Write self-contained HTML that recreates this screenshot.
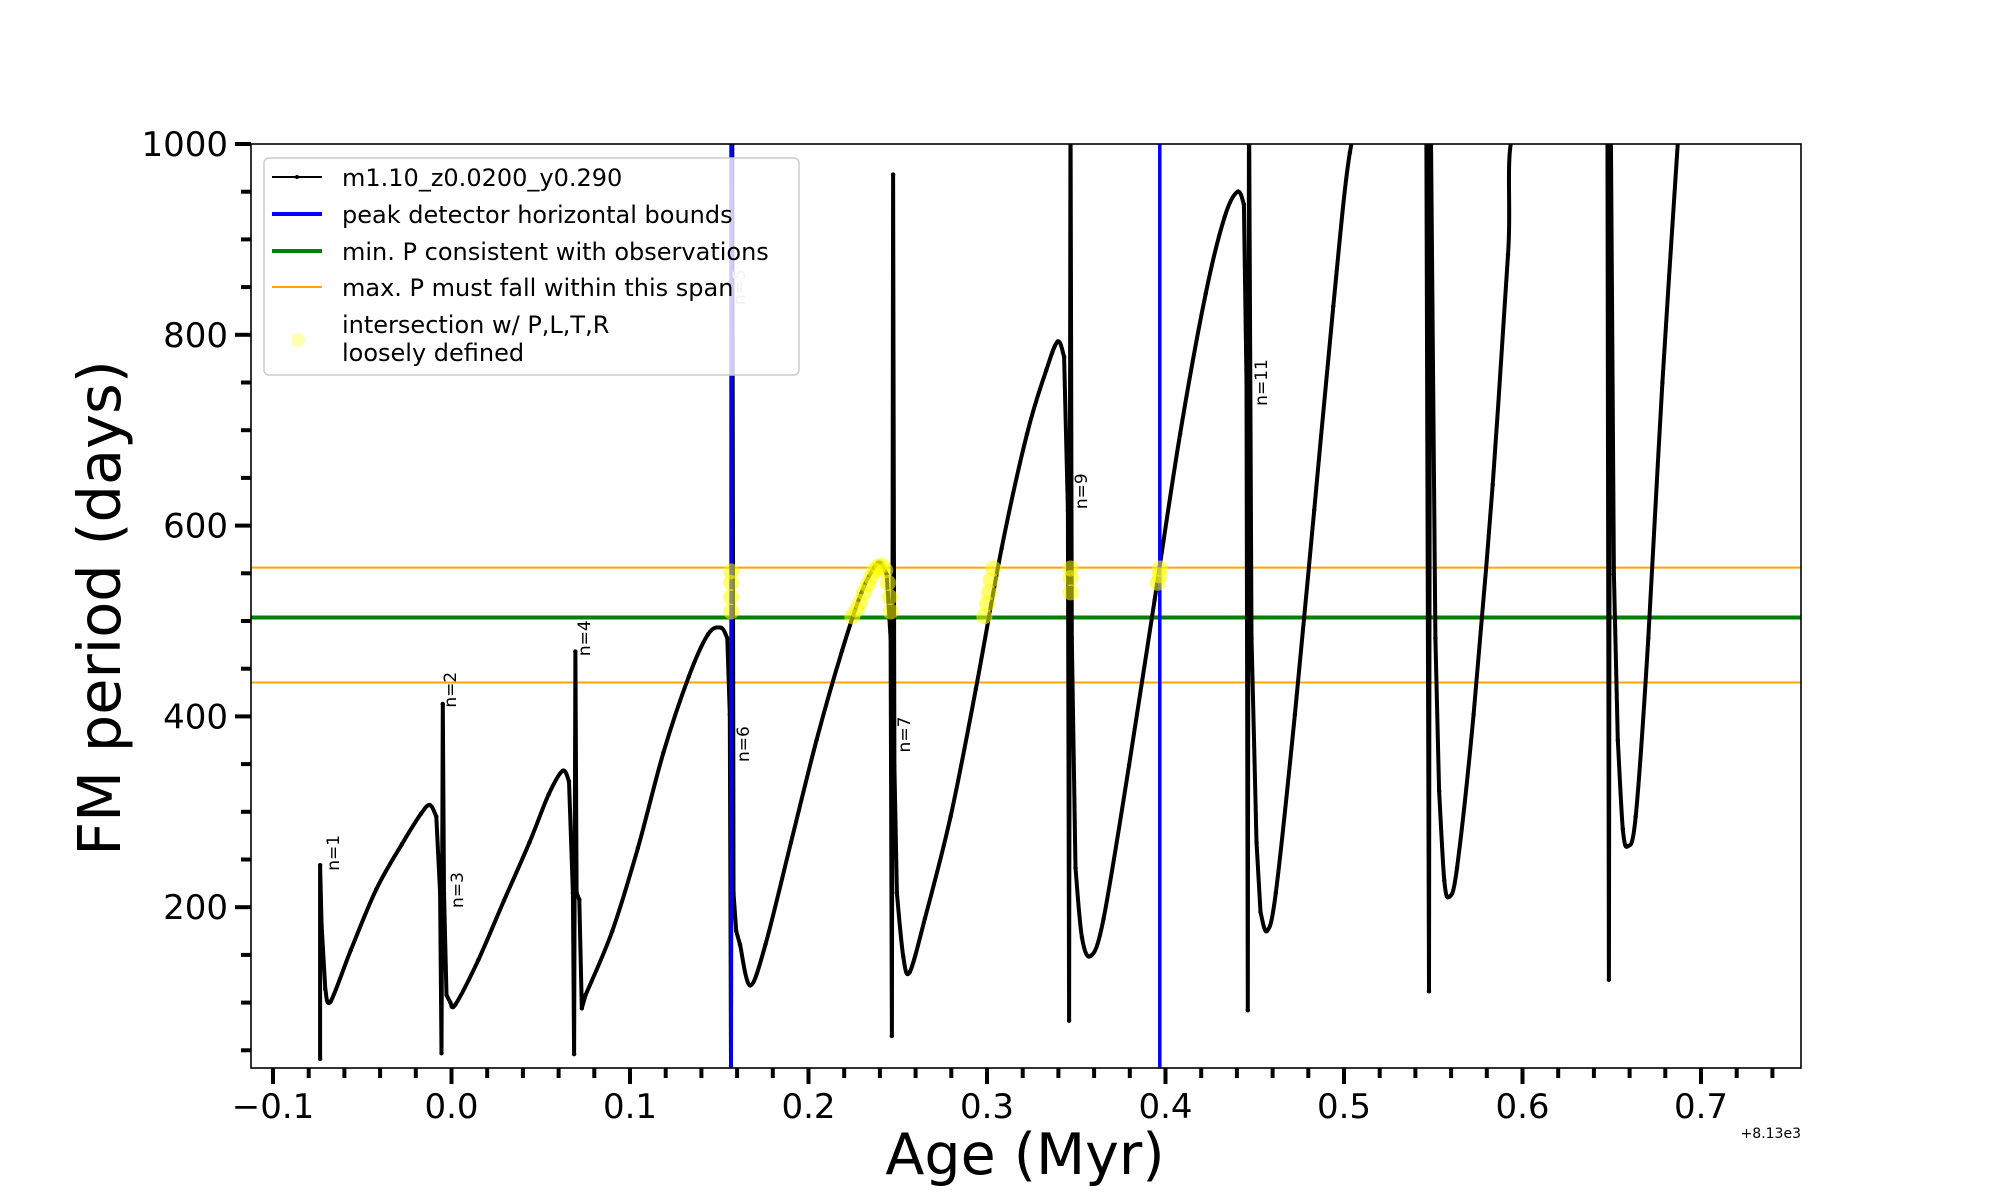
<!DOCTYPE html>
<html><head><meta charset="utf-8"><style>
html,body{margin:0;padding:0;background:#fff}
svg{display:block;font-family:"DejaVu Sans","Liberation Sans",sans-serif}
</style></head><body>
<svg id="chart" width="2000" height="1200" viewBox="0 0 2000 1200">
<defs><clipPath id="plotclip"><rect x="251" y="144" width="1550" height="924"/></clipPath></defs>
<g id="plot" clip-path="url(#plotclip)"></g>
<rect x="251" y="144" width="1550" height="924" fill="none" stroke="#000" stroke-width="1.6"/>
<g id="ticks"></g>
<g id="labels"></g>
<text x="1025" y="1174" font-size="57" text-anchor="middle">Age (Myr)</text>
<text transform="translate(120,608) rotate(-90)" font-size="59" text-anchor="middle">FM period (days)</text>
<text x="1801" y="1138" font-size="14" text-anchor="end">+8.13e3</text>
<g>
<rect x="264" y="158" width="535" height="217" rx="5" fill="#fff" fill-opacity="0.8" stroke="#ccc" stroke-width="1.5"/>
<line x1="272" y1="177" x2="322" y2="177" stroke="#000" stroke-width="2"/>
<circle cx="297" cy="177" r="2" fill="#000"/>
<text x="342" y="186" font-size="24">m1.10_z0.0200_y0.290</text>
<line x1="272" y1="214" x2="322" y2="214" stroke="#0000ff" stroke-width="4"/>
<text x="342" y="223" font-size="24">peak detector horizontal bounds</text>
<line x1="272" y1="251" x2="322" y2="251" stroke="#008000" stroke-width="4"/>
<text x="342" y="260" font-size="24">min. P consistent with observations</text>
<line x1="272" y1="287" x2="322" y2="287" stroke="#ffa500" stroke-width="2"/>
<text x="342" y="296" font-size="24">max. P must fall within this span</text>
<circle cx="298" cy="340" r="7" fill="#ffff00" fill-opacity="0.3"/>
<text x="342" y="333" font-size="24">intersection w/ P,L,T,R</text>
<text x="342" y="361" font-size="24">loosely defined</text>
</g>
</svg>
<script>
const ages=[-0.0736,-0.0736,-0.0728,-0.0707,-0.0678,-0.0564,-0.0421,-0.0278,-0.0171,-0.0121,-0.0085,-0.0064,-0.0056,-0.0049,-0.0042,-0.0028,-0.0006,0.0022,0.0151,0.0294,0.0437,0.0544,0.0623,0.0658,0.068,0.0687,0.0694,0.0701,0.0716,0.073,0.0751,0.0901,0.1044,0.1187,0.133,0.1437,0.1509,0.1545,0.1559,0.1566,0.1573,0.158,0.1595,0.1616,0.1673,0.1759,0.1902,0.2045,0.2188,0.2295,0.2367,0.2402,0.2438,0.246,0.2467,0.2474,0.2481,0.2495,0.2531,0.2567,0.2652,0.2796,0.2938,0.3082,0.3224,0.3332,0.3396,0.3432,0.3453,0.346,0.3468,0.3475,0.3496,0.3532,0.3582,0.3653,0.3796,0.3939,0.4082,0.4225,0.4332,0.4404,0.4439,0.4454,0.4461,0.4468,0.4482,0.451,0.4532,0.4568,0.4618,0.4725,0.4833,0.494,0.5033,0.512,0.546,0.5476,0.5483,0.5512,0.5533,0.5562,0.559,0.5633,0.5726,0.5833,0.5919,0.598,0.6475,0.6484,0.6492,0.6512,0.6534,0.6562,0.659,0.6634,0.6705,0.6784,0.688];
const periods=[41,244,181,114,101,155,219,266,298,307,295,215,47,413,215,108,100,98,145,207,268,318,343,332,215,46,468,215,208,94,108,175,262,362,442,486,493,482,402,34,1000,215,175,161,118,161,268,375,469,529,556,561,549,482,65,968,348,215,148,132,188,295,429,576,696,763,793,777,616,81,1050,482,241,168,149,188,349,522,696,843,924,950,937,750,92,1050,482,268,195,175,215,402,616,830,991,1030,1100,112,1100,482,322,228,211,241,402,643,884,1030,1100,124,1100,549,375,282,264,295,482,750,1030];
const yellowAges=[0.1566,0.1566,0.1566,0.1566,0.2245,0.227,0.229,0.231,0.233,0.235,0.237,0.239,0.241,0.243,0.2445,0.2455,0.246,0.2985,0.3,0.301,0.302,0.3035,0.3468,0.3468,0.3468,0.3955,0.3965,0.397];
const yellowPeriods=[510,525,540,552,505,512,520,530,538,546,553,557,558,553,540,525,510,505,518,530,543,555,530,545,555,540,548,555];
const blueBounds=[0.1566,0.3968];
const minP=[503.7];
const maxPSpan=[556,435.5];
const xTickLabels=["\u22120.1","0.0","0.1","0.2","0.3","0.4","0.5","0.6","0.7"];
const xTickValues=[-0.1,0,0.1,0.2,0.3,0.4,0.5,0.6,0.7];
const yTickValues=[200,400,600,800,1000];
const nLabels=["n=1","n=2","n=3","n=4","n=5","n=6","n=7","n=9","n=11"];
const nAges=[-0.0659,-0.0003,0.0036,0.0748,0.1616,0.1638,0.2541,0.3532,0.4541];
const nPeriods=[257,428,218,482,850,371,381,636,750];

const NS="http://www.w3.org/2000/svg";
const X=a=>273+(a+0.1)*1785;
const Y=p=>144+(1000-p)*0.954;
function mk(tag,attrs,parent){const e=document.createElementNS(NS,tag);for(const k in attrs)e.setAttribute(k,attrs[k]);parent.appendChild(e);return e;}
const plot=document.getElementById('plot');
const ticks=document.getElementById('ticks');
const labels=document.getElementById('labels');

maxPSpan.forEach(p=>{const l=mk('line',{x1:251,x2:1801,y1:Y(p),y2:Y(p),stroke:'#ffa500','stroke-width':2},plot);

});
minP.forEach(p=>{const l=mk('line',{x1:251,x2:1801,y1:Y(p),y2:Y(p),stroke:'#008000','stroke-width':4},plot);

});

// smoothed path: Catmull-Rom style, with spikes (tiny age steps) kept straight
const px=ages.map(X), py=periods.map(Y);
const n=px.length;
const isSmooth=i=>i>=0&&i<n-1&&(px[i+1]-px[i])>4;
const tx=[],ty=[];
for(let i=0;i<n;i++){
  const l=isSmooth(i-1), r=isSmooth(i);
  if(l&&r){tx[i]=(px[i+1]-px[i-1])/2;ty[i]=(py[i+1]-py[i-1])/2;}
  else if(r){tx[i]=(px[i+1]-px[i])*0.5;ty[i]=(py[i+1]-py[i])*0.5;}
  else if(l){tx[i]=(px[i]-px[i-1])*0.5;ty[i]=(py[i]-py[i-1])*0.5;}
  else{tx[i]=0;ty[i]=0;}
}
let d='M'+px[0].toFixed(1)+','+py[0].toFixed(1);
for(let i=0;i<n-1;i++){
  if(isSmooth(i)){
    const c1x=px[i]+tx[i]/3,c1y=py[i]+ty[i]/3,c2x=px[i+1]-tx[i+1]/3,c2y=py[i+1]-ty[i+1]/3;
    d+=`C${c1x.toFixed(1)},${c1y.toFixed(1)} ${c2x.toFixed(1)},${c2y.toFixed(1)} ${px[i+1].toFixed(1)},${py[i+1].toFixed(1)}`;
  } else d+='L'+px[i+1].toFixed(1)+','+py[i+1].toFixed(1);
}
const path=mk('path',{d:d,fill:'none',stroke:'#000','stroke-width':4,'stroke-linejoin':'round'},plot);


ages.forEach((a,i)=>{const c=mk('circle',{cx:X(a),cy:Y(periods[i]),r:2.2,fill:'#000'},plot);

});

blueBounds.forEach(a=>{const l=mk('line',{x1:X(a),x2:X(a),y1:144,y2:1068,stroke:'#0000ff','stroke-width':3.5},plot);

});

yellowAges.forEach((a,i)=>{const c=mk('circle',{cx:X(a),cy:Y(yellowPeriods[i]),r:8,fill:'#ffff00','fill-opacity':0.55},plot);

});

nLabels.forEach((t,i)=>{const x=X(nAges[i]),y=Y(nPeriods[i]);
const e=mk('text',{transform:`translate(${x},${y}) rotate(-90)`,'font-size':17,'text-anchor':'middle','dominant-baseline':'central',fill:i===4?'#bbb':'#000'},plot);
e.textContent=t;

});

for(let k=-5;k<=37;k++){const a=k*0.02;const x=X(a);if(x<251||x>1801)continue;const major=k%5===0;
const l=mk('line',{x1:x,x2:x,y1:1068,y2:1068+(major?16:10),stroke:'#000','stroke-width':4},ticks);

}
xTickValues.forEach((v,i)=>{const t=mk('text',{x:X(v),y:1118,'font-size':34,'text-anchor':'middle'},labels);
t.textContent=xTickLabels[i];

});
for(let p=50;p<=1000;p+=50){const y=Y(p);if(y>1068)continue;const major=p%200===0;
const l=mk('line',{x1:251-(major?16:10),x2:251,y1:y,y2:y,stroke:'#000','stroke-width':4},ticks);

}
yTickValues.forEach(v=>{const t=mk('text',{x:228,y:Y(v)+12,'font-size':34,'text-anchor':'end'},labels);
t.textContent=String(v);

});
</script>
</body></html>
